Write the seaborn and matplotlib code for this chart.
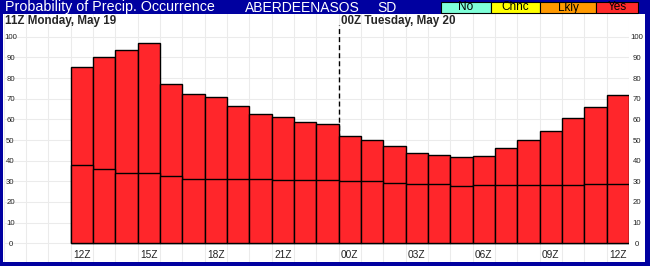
"""Probabilidad de ocurrencia de precipitacion, Aberdeen (SD)."""
import matplotlib.pyplot as plt
import pandas as pd
import seaborn as sns
from matplotlib.patches import Rectangle
from matplotlib.transforms import blended_transform_factory

HORAS = ["12Z", "13Z", "14Z", "15Z", "16Z", "17Z", "18Z", "19Z", "20Z",
         "21Z", "22Z", "23Z", "00Z", "01Z", "02Z", "03Z", "04Z", "05Z",
         "06Z", "07Z", "08Z", "09Z", "10Z", "11Z", "12Z"]
PROB_TOTAL = [85.2, 90.0, 93.4, 96.8, 77.0, 72.1, 70.7, 66.3, 62.4, 61.0,
              58.6, 57.6, 51.8, 49.9, 46.9, 43.6, 42.6, 41.6, 42.1, 46.0,
              49.9, 54.2, 60.5, 65.8, 71.6]
PROB_INFERIOR = [37.7, 35.8, 33.9, 33.9, 32.4, 31.3, 31.3, 31.3, 31.3, 30.5,
                 30.8, 30.8, 30.0, 30.0, 29.0, 28.5, 28.5, 27.6, 28.1, 28.1,
                 28.1, 28.1, 28.1, 28.5, 28.5]
Y_TICKS = list(range(0, 101, 10))
CATEGORIAS = ["No", "Chnc", "Lkly", "Yes"]

AZUL = "#0000A0"
ROJO = "#FF262B"
COLOR_CATEGORIA = {
    "No": "#7FFFD9",
    "Chnc": "#FFFF00",
    "Lkly": "#FF9900",
    "Yes": "#FF2A2A",
}
W, H = 650, 266
Y_LIM = (-9.05, 111.0)


def etiquetas_y(eje, pad):
    eje.set_ylim(*Y_LIM)
    eje.set_yticks(Y_TICKS)
    eje.set_yticklabels([str(v) for v in Y_TICKS])
    eje.tick_params(axis="y", length=0, labelsize=5.6, labelcolor="#222222")
    for tick in eje.yaxis.get_major_ticks():
        tick.label1.set_horizontalalignment("center")
        tick.label2.set_horizontalalignment("center")
        tick.set_pad(pad)


def main():
    datos = pd.DataFrame({
        "pos": range(len(HORAS)),
        "total": PROB_TOTAL,
        "inferior": PROB_INFERIOR,
    })

    sns.set_style("white")
    plt.rcParams["font.family"] = ["Liberation Sans", "DejaVu Sans"]

    fig = plt.figure(figsize=(W / 100, H / 100), dpi=100, facecolor=AZUL)
    # panel blanco bajo la barra de titulo
    fig.patches.append(Rectangle(
        (3 / W, 4 / H), 642 / W, 248 / H, transform=fig.transFigure,
        facecolor="white", edgecolor="none", zorder=-5,
    ))
    ax = fig.add_axes([3.5 / W, 4 / H, 625.5 / W, 248 / H])
    ax.set_facecolor("white")

    n = len(HORAS)

    # linea de cambio de dia
    x_dia = HORAS.index("00Z") - 0.5
    ax.vlines(x_dia, 0, 105.7, colors="black", linestyles=(0, (3.6, 2.2)),
              linewidth=1, zorder=1)

    for columna in ["total", "inferior"]:
        sns.barplot(
            data=datos, x="pos", y=columna, native_scale=True, width=1,
            color=ROJO, saturation=1, edgecolor="black", linewidth=1,
            ax=ax, zorder=2,
        )

    ax.set_xlim(-3.5, n - 0.5)
    ax.set_xlabel("")
    ax.set_ylabel("")

    ax.set_xticks(range(0, n, 3))
    ax.set_xticklabels(HORAS[::3], fontsize=7.3, color="#222222")
    ax.set_xticks([i - 0.5 for i in range(-3, n + 1)], minor=True)
    ax.tick_params(axis="x", which="both", length=0, pad=-8.3)
    etiquetas_y(ax, -5.0)

    # eje derecho con las mismas marcas
    ax_der = ax.twinx()
    etiquetas_y(ax_der, 5.6)
    ax_der.grid(False)
    for borde in ax_der.spines.values():
        borde.set_visible(False)

    ax.grid(False)
    ax.grid(axis="x", which="minor", color="#EBEBEB", linewidth=0.75)
    ax.grid(axis="y", which="major", color="#EBEBEB", linewidth=0.75)
    ax.set_axisbelow(True)
    for borde in ax.spines.values():
        borde.set_visible(False)

    # encabezados de fecha
    trans = blended_transform_factory(ax.transData, fig.transFigure)
    ax.text(-3.45, 1 - 21 / H, "11Z Monday, May 19", transform=trans,
            fontsize=8.4, fontweight="bold", va="center", ha="left")
    ax.text(x_dia + 0.1, 1 - 21 / H, "00Z Tuesday, May 20", transform=trans,
            fontsize=8.4, fontweight="bold", va="center", ha="left")

    # barra de titulo
    y_tit = 1 - 7.5 / H
    fig.text(5 / W, y_tit, "Probability of Precip. Occurrence",
             color="white", fontsize=10.3, va="center", ha="left")
    fig.text(245 / W, y_tit, "ABERDEENASOS", color="white", fontsize=10,
             va="center", ha="left")
    fig.text(377 / W, y_tit, "SD", color="white", fontsize=10,
             va="center", ha="left")

    bordes = [441, 491, 540, 596, 638]
    for i, cat in enumerate(CATEGORIAS):
        x0, x1 = bordes[i], bordes[i + 1]
        fig.patches.append(Rectangle(
            (x0 / W, 1 - 12.5 / H), (x1 - x0) / W, 10.5 / H,
            transform=fig.transFigure, facecolor=COLOR_CATEGORIA[cat],
            edgecolor="black", linewidth=0.8, zorder=3,
        ))
        fig.text((x0 + x1) / 2 / W, 1 - 7.5 / H, cat, fontsize=8.5,
                 color="black", ha="center", va="center", zorder=4)

    fig.savefig("out.png", dpi=100, facecolor=AZUL)
    plt.close(fig)


if __name__ == "__main__":
    main()
